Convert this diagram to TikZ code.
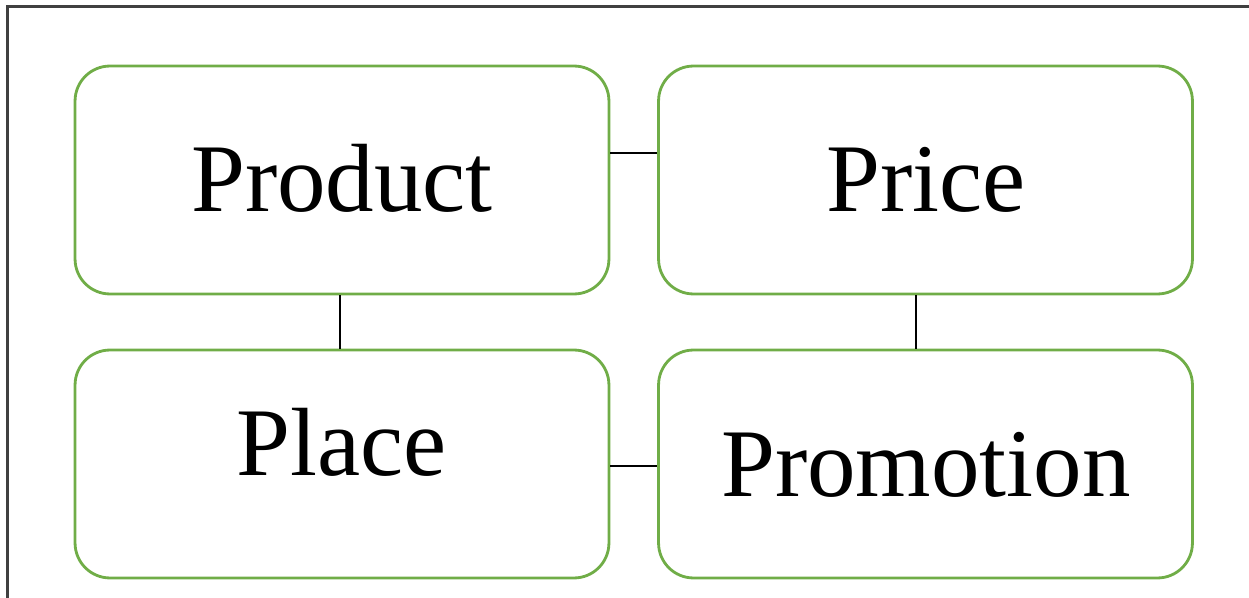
\documentclass[tikz,border=0pt]{standalone}
\usepackage{fontspec}
\setmainfont{Liberation Serif}
\definecolor{leafgreen}{HTML}{70AD47}
\definecolor{framegray}{HTML}{404040}
\begin{document}
\begin{tikzpicture}[x=0.02cm,y=-0.02cm,
  pbox/.style={draw=leafgreen, line width=1.6pt, rounded corners=0.7cm,
    minimum width=10.68cm, minimum height=4.56cm, inner sep=0pt},
  plabel/.style={anchor=base, inner sep=0pt,
    font=\fontsize{55.2}{60}\selectfont},
  link/.style={draw=black, line width=0.85pt}]
\useasboundingbox (0,0) rectangle (1249,598);
% outer frame (only top and left edges fall inside the page)
\draw[framegray, line width=1.4pt] (7.5,605) -- (7.5,6.5) -- (1255,6.5);
% the four boxes
\node[pbox] (prod)  at (342,180)   {};
\node[pbox] (price) at (925.5,180) {};
\node[pbox] (place) at (342,464)   {};
\node[pbox] (promo) at (925.5,464) {};
% their labels
\node[plabel] (tprod)  at (342,212)   {Product};
\node[plabel] (tprice) at (926,212)   {Price};
\node[plabel] (tplace) at (342,475)   {Place};
\node[plabel] (tpromo) at (926,496)   {Promotion};
% connectors
\draw[link] ([yshift=0.54cm]prod.east) -- ([yshift=0.54cm]price.west);
\draw[link] ([xshift=-0.04cm]prod.south) -- ([xshift=-0.04cm]place.north);
\draw[link] ([xshift=-0.19cm]price.south) -- ([xshift=-0.19cm]promo.north);
\draw[link] ([yshift=-0.04cm]place.east) -- ([yshift=-0.04cm]promo.west);
\end{tikzpicture}
\end{document}
